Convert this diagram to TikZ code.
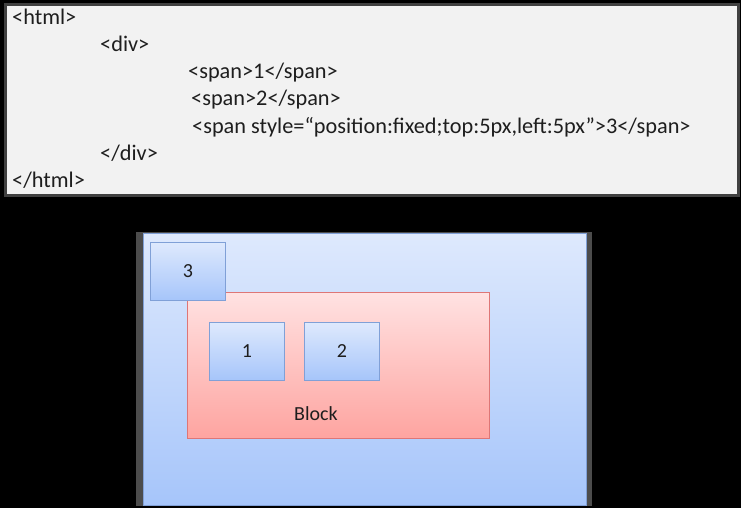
\documentclass[tikz,border=0pt]{standalone}
\usepackage{fontspec}
\setmainfont{Carlito}
\usetikzlibrary{positioning}
\definecolor{blutop}{RGB}{222,233,253}
\definecolor{blubot}{RGB}{166,197,250}
\definecolor{bluline}{RGB}{128,160,215}
\definecolor{redtop}{RGB}{255,226,226}
\definecolor{redbot}{RGB}{254,164,160}
\definecolor{redline}{RGB}{222,118,118}
\definecolor{ink}{RGB}{30,30,30}

\begin{document}
\begin{tikzpicture}[x=1pt, y=-1pt,
      code/.style={anchor=base west, inner sep=0pt, text=ink, font=\fontsize{22.3}{25}\selectfont},
      blubox/.style={draw=bluline, line width=0.8pt, top color=blutop, bottom color=blubot,
        anchor=north west, inner sep=0pt, minimum width=75pt, minimum height=58pt, text=ink, font=\fontsize{20}{24}\selectfont},
      redbox/.style={draw=redline, line width=0.8pt, top color=redtop, bottom color=redbot,
        anchor=north west, inner sep=0pt, minimum width=302pt, minimum height=146pt}]
    % page
    \useasboundingbox[fill=black] (0,0) rectangle (741,508);
    % code listing
    \node[draw=black!75, line width=3pt, fill=black!5, anchor=north west, minimum width=733pt, minimum height=191pt, inner sep=0pt] (listing) at (4,3) {};
    \node[code] (htmlopen) at (12,25) {<html>};
    \node[code] (divopen) at (100,52) {<div>};
    \node[code] (spanone) at (188,79) {<span>1</span>};
    \node[code] (spantwo) at (191,106) {<span>2</span>};
    \node[code] (spanthree) at (192,133) {<span style=“position:fixed;top:5px,left:5px”>3</span>};
    \node[code] (divclose) at (100,160) {</div>};
    \node[code] (htmlclose) at (12,187) {</html>};
    % rendered page
    \node[fill=black!70, anchor=north west, minimum width=456pt, minimum height=274pt, inner sep=0pt] (edge) at (136,232) {};
    \node[blubox, line width=1pt, minimum width=443pt, minimum height=272pt] (viewport) at (142.5,233) {};
    \node[redbox] (block) at (187,292) {};
    \node[anchor=base, inner sep=0pt, text=ink, font=\fontsize{20}{24}\selectfont] (blocklbl) at (316,420) {Block};
    \node[blubox] (one) at (209,322) {1};
    \node[blubox] (two) at (304,322) {2};
    \node[blubox] (three) at (150,242) {3};
  \end{tikzpicture}
\end{document}
